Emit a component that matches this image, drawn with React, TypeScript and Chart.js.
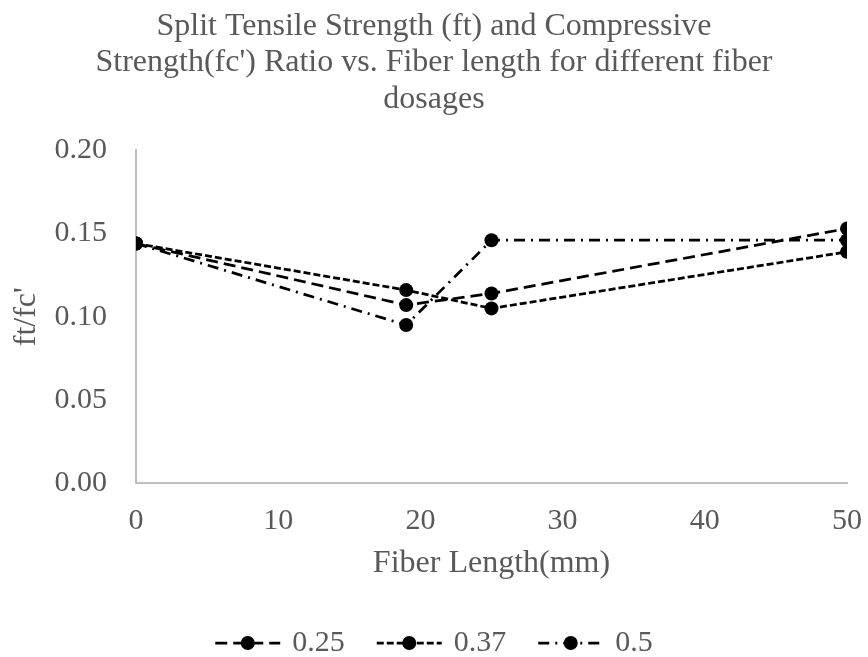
import React, { useEffect, useRef } from "react";
import { Chart, registerables } from "chart.js";

Chart.register(...registerables);

// Fiber lengths (mm) tested
const fiberLength = [0, 19, 25, 50];

// ft/fc' ratio for each fiber dosage
const dosage025 = [0.144, 0.107, 0.114, 0.153];
const dosage037 = [0.144, 0.116, 0.105, 0.139];
const dosage05 = [0.144, 0.095, 0.146, 0.146];

const seriesLabels = ["0.25", "0.37", "0.5"];

const titleLines = [
  "Split Tensile Strength (ft) and Compressive",
  "Strength(fc') Ratio vs. Fiber length for different fiber",
  "dosages",
];

const FONT = '"Liberation Serif", "Times New Roman", serif';
const GREY = "#595959";

// Draws the legend row under the x-axis title: dashed sample line with a marker, then the label
const bottomLegend = {
  id: "bottomLegend",
  afterDraw(chart: any) {
    const ctx = chart.ctx as CanvasRenderingContext2D;
    const sampleW = 65;
    const textGap = 12;
    const itemGap = 32;
    const y = 643;
    ctx.save();
    ctx.font = `30px ${FONT}`;
    const items = chart.data.datasets.map((ds: any) => ({
      ds,
      tw: ctx.measureText(ds.label).width,
    }));
    const total =
      items.reduce((s: number, it: any) => s + sampleW + textGap + it.tw, 0) +
      itemGap * (items.length - 1);
    let x = (chart.width - total) / 2;
    for (const it of items) {
      const ds = it.ds;
      ctx.strokeStyle = ds.borderColor;
      ctx.lineWidth = ds.borderWidth;
      ctx.setLineDash(ds.borderDash || []);
      ctx.beginPath();
      ctx.moveTo(x, y);
      ctx.lineTo(x + sampleW, y);
      ctx.stroke();
      ctx.setLineDash([]);
      ctx.fillStyle = ds.pointBackgroundColor;
      ctx.beginPath();
      ctx.arc(x + sampleW / 2, y, ds.pointRadius, 0, Math.PI * 2);
      ctx.fill();
      ctx.fillStyle = GREY;
      ctx.textAlign = "left";
      ctx.textBaseline = "middle";
      ctx.fillText(ds.label, x + sampleW + textGap, y);
      x += sampleW + textGap + it.tw + itemGap;
    }
    ctx.restore();
  },
};

export default function App() {
  const canvasRef = useRef<HTMLCanvasElement | null>(null);

  useEffect(() => {
    if (!canvasRef.current) return;
    const seriesValues = [dosage025, dosage037, dosage05];
    const dashes = [
      [12, 6],
      [7, 3],
      [11, 6, 2, 6],
    ];
    const datasets = seriesValues.map((vals, i) => ({
      label: seriesLabels[i],
      data: fiberLength.map((x, j) => ({ x, y: vals[j] })),
      borderColor: "#000000",
      backgroundColor: "#000000",
      borderWidth: 2.75,
      borderDash: dashes[i],
      pointRadius: 7,
      pointBorderWidth: 0,
      pointBackgroundColor: "#000000",
      pointBorderColor: "#000000",
      tension: 0,
    }));

    const chart = new Chart(canvasRef.current, {
      type: "line",
      data: { datasets },
      plugins: [bottomLegend],
      options: {
        animation: false,
        responsive: false,
        devicePixelRatio: 1,
        layout: { padding: { left: 0, right: 0, top: 0, bottom: 60 } },
        plugins: {
          legend: { display: false },
          tooltip: { enabled: false },
          title: {
            display: true,
            text: titleLines,
            color: GREY,
            font: { family: FONT, size: 32, weight: "normal", lineHeight: 1.14 },
            padding: { top: 8, bottom: 33 },
          },
        },
        scales: {
          x: {
            type: "linear",
            min: 0,
            max: 50,
            grid: { display: false, drawTicks: false },
            border: { display: true, color: "#bfbfbf", width: 2 },
            ticks: {
              stepSize: 10,
              color: GREY,
              padding: 20,
              font: { family: FONT, size: 30 },
            },
            title: {
              display: true,
              text: "Fiber Length(mm)",
              color: GREY,
              font: { family: FONT, size: 32, lineHeight: 1.2 },
              padding: { top: 0, bottom: 14 },
            },
            afterFit(scale: any) {
              scale.height = 114;
              scale.paddingRight = 21;
            },
          },
          y: {
            min: 0,
            max: 0.2,
            grid: { display: false, drawTicks: false },
            border: { display: true, color: "#bfbfbf", width: 2 },
            ticks: {
              stepSize: 0.05,
              color: GREY,
              padding: 29,
              font: { family: FONT, size: 30 },
              callback: (v: any) => Number(v).toFixed(2),
            },
            title: {
              display: true,
              text: "ft/fc'",
              color: GREY,
              font: { family: FONT, size: 32, lineHeight: 1.2 },
              padding: { top: 7, bottom: 0 },
            },
            afterFit(scale: any) {
              scale.width = 136;
            },
          },
        },
      },
    });
    return () => chart.destroy();
  }, []);

  return (
    <div style={{ position: "absolute", left: 0, top: 0, width: 868, height: 657, background: "#ffffff" }}>
      <canvas ref={canvasRef} width={868} height={657} />
    </div>
  );
}
